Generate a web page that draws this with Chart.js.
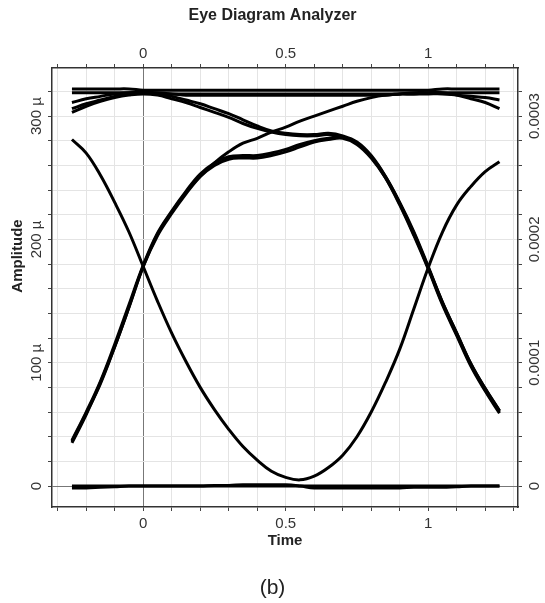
<!DOCTYPE html>
<html>
<head>
<meta charset="utf-8">
<script src="https://cdn.jsdelivr.net/npm/chart.js@4/dist/chart.umd.min.js"></script>
<style>
  html, body { margin: 0; padding: 0; background: #fff; }
  #eye { display: block; }
</style>
</head>
<body>
<canvas id="eye" width="545" height="603"></canvas>
<script>
// sample times (unit intervals) and traced amplitudes in micro units
const times = [-0.25, -0.2, -0.15, -0.1, -0.05, 0, 0.05, 0.1, 0.15, 0.2, 0.25, 0.3, 0.35, 0.4, 0.45, 0.5,
               0.55, 0.6, 0.65, 0.7, 0.75, 0.8, 0.85, 0.9, 0.95, 1, 1.05, 1.1, 1.15, 1.2, 1.25];

const high1 = [322, 322, 322, 322, 322, 321, 321, 321, 321, 321, 321, 321, 321, 321, 321, 321, 321, 321, 321, 321, 321, 321, 321, 321, 321, 321, 322, 322, 322, 322, 322];
const high2 = [319, 319, 319, 319, 319, 319, 318, 318, 317, 317, 317, 317, 317, 317, 317, 317, 317, 317, 317, 317, 317, 317, 317, 318, 318, 319, 319, 319, 319, 319, 319];
const high3 = [311, 314, 316, 318, 319, 319, 319, 318, 318, 318, 318, 318, 318, 318, 318, 318, 318, 318, 318, 318, 318, 318, 318, 318, 318, 318, 318, 317, 316, 315, 313];
const fall1 = [306, 310, 313, 316, 318, 319, 318, 316, 313, 310, 306, 302, 297, 292, 288, 286, 285, 285, 286, 284, 279, 268, 251, 229, 204, 177, 149, 124, 99, 79, 61];
const fall2 = [303, 308, 312, 315, 317, 318, 317, 314, 311, 307, 303, 299, 294, 290, 287, 285, 284, 284, 285, 283, 278, 267, 250, 228, 203, 176, 147, 122, 97, 77, 59];
const rise1 = [35, 58, 84, 113, 145, 178, 203, 221, 237, 251, 262, 271, 278, 282, 287, 291, 296, 300, 304, 308, 312, 315, 317, 318, 319, 319, 319, 317, 314, 311, 306];
const hump1 = [36, 59, 83, 113, 145, 178, 204, 222, 238, 251, 260, 265, 266, 266, 268, 271, 275, 279, 281, 282, 277, 266, 250, 229, 205, 177, 148, 123, 98, 78, 60];
const hump2 = [37, 60, 85, 115, 147, 179, 205, 223, 239, 253, 262, 267, 268, 268, 270, 273, 277, 280, 282, 283, 278, 267, 251, 230, 206, 178, 149, 124, 99, 79, 61];
const dip1 = [281, 270, 252, 230, 206, 178, 150, 124, 101, 80, 62, 46, 32, 21, 12, 7, 5, 8, 15, 25, 40, 60, 84, 111, 144, 177, 206, 228, 243, 255, 263];
const low1 = [0, 0, 0, 0, 0, 0, 0, 0, 0, 0, 0, 0, 0, 0, 0, 0, 0, 0, 0, 0, 0, 0, 0, 0, 0, 0, 0, 0, 0, 0, 0];
const low2 = [-1.5, -1.5, -1, -0.5, 0, 0, 0, 0, 0, 0, 0.5, 0.5, 1, 1, 1, 1, 0, -1.5, -1.5, -1.5, -1.5, -1.5, -1.5, -1.5, -1, -1, -1, -0.5, 0, 0, 0];

const traces = [high1, high2, high3, fall1, fall2, rise1, hump1, hump2, dip1, low1, low2];

const font = "Arial, 'Liberation Sans', sans-serif";
const tickFont = { family: font, size: 15 };
const boldFont = { family: font, size: 15, weight: 'bold' };

function toPoints(vals) {
  return vals.map((v, i) => ({ x: times[i], y: v }));
}

function xLabel(v) {
  return Math.abs(v * 2 - Math.round(v * 2)) < 1e-9 ? String(+v.toFixed(1)) : '';
}

const gridColor = c => (c.tick && c.tick.value === 0) ? '#777' : '#e4e4e4';

// y axis title sits a bit above the middle of the frame in the original
const amplitudeTitle = {
  id: 'amplitudeTitle',
  afterDraw(chart) {
    const ctx = chart.ctx;
    ctx.save();
    ctx.translate(18, 256);
    ctx.rotate(-Math.PI / 2);
    ctx.font = 'bold 15px ' + font;
    ctx.fillStyle = '#222';
    ctx.textAlign = 'center';
    ctx.textBaseline = 'middle';
    ctx.fillText('Amplitude', 0, 0);
    ctx.restore();
  }
};

new Chart(document.getElementById('eye'), {
  type: 'line',
  data: {
    datasets: traces.map(t => ({
      data: toPoints(t),
      borderColor: '#000',
      borderWidth: 3,
      pointRadius: 0,
      fill: false,
      tension: 0.4
    }))
  },
  options: {
    responsive: false,
    animation: false,
    layout: { padding: 0 },
    plugins: {
      legend: { display: false },
      tooltip: { enabled: false },
      title: {
        display: true,
        text: 'Eye Diagram Analyzer',
        color: '#222',
        font: { family: font, size: 16, weight: 'bold' },
        padding: { top: 6, bottom: 0 }
      },
      subtitle: {
        display: true,
        position: 'bottom',
        text: '(b)',
        color: '#222',
        font: { family: font, size: 21 },
        padding: { top: 5, bottom: 2.4 }
      }
    },
    scales: {
      x: {
        type: 'linear', position: 'bottom', min: -0.32, max: 1.315,
        afterFit: s => { s.height = 63.4; },
        grid: { color: gridColor, tickLength: 4, tickColor: '#444' },
        border: { color: '#333', width: 1.5 },
        ticks: { stepSize: 0.1, includeBounds: false, autoSkip: false, maxRotation: 0, padding: 3.5,
                 font: tickFont, color: '#333', callback: xLabel },
        title: { display: true, text: 'Time', color: '#222', font: boldFont, padding: { top: 0, bottom: 20.7 } }
      },
      xTop: {
        type: 'linear', position: 'top', min: -0.32, max: 1.315,
        afterFit: s => { s.height = 42.8; },
        grid: { drawOnChartArea: false, tickLength: 4, tickColor: '#444' },
        border: { color: '#333', width: 1.5 },
        ticks: { stepSize: 0.1, includeBounds: false, autoSkip: false, maxRotation: 0, padding: 1.5,
                 font: tickFont, color: '#333', callback: xLabel }
      },
      y: {
        type: 'linear', position: 'left', min: -17, max: 339,
        afterFit: s => { s.width = 52; },
        grid: { color: gridColor, tickLength: 4, tickColor: '#444' },
        border: { color: '#333', width: 1.5 },
        ticks: { stepSize: 20, includeBounds: false, autoSkip: false, minRotation: 90, maxRotation: 90,
                 crossAlign: 'center', padding: -7.4, font: tickFont, color: '#333',
                 callback: v => v % 100 === 0 ? (v === 0 ? '0' : v + ' µ') : '' }
      },
      yRight: {
        type: 'linear', position: 'right', min: -17, max: 339,
        afterFit: s => { s.width = 27; },
        grid: { drawOnChartArea: false, tickLength: 4, tickColor: '#444' },
        border: { color: '#333', width: 1.5 },
        ticks: { stepSize: 20, includeBounds: false, autoSkip: false, minRotation: 90, maxRotation: 90,
                 crossAlign: 'center', padding: -10.2, font: tickFont, color: '#333',
                 callback: v => v % 100 === 0 ? (v === 0 ? '0' : String(v / 1e6)) : '' }
      }
    }
  },
  plugins: [amplitudeTitle]
});
</script>
</body>
</html>
